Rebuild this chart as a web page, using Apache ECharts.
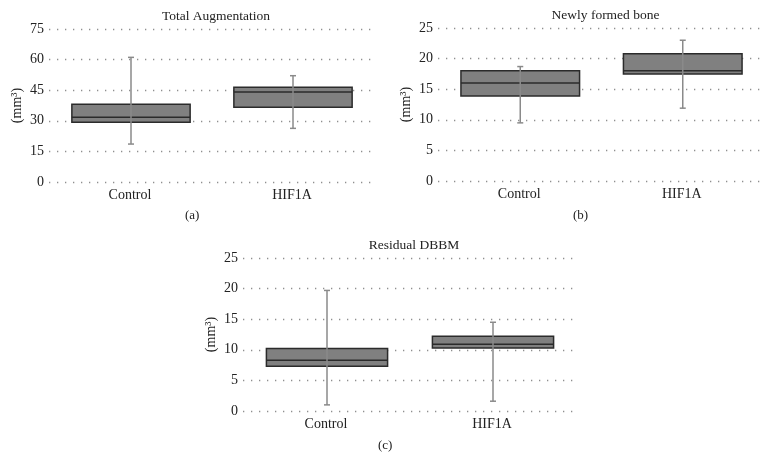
<!DOCTYPE html>
<html>
<head>
<meta charset="utf-8">
<script src="https://cdn.jsdelivr.net/npm/echarts@6/dist/echarts.min.js"></script>
<style>
html,body{margin:0;padding:0;background:#fff;}
#chart{width:776px;height:472px;}
</style>
</head>
<body>
<div id="chart"></div>
<script>
// ---- Data ----
const categories = ['Control', 'HIF1A'];
const titles = ['Total Augmentation', 'Newly formed bone', 'Residual DBBM'];
const panelLabels = ['(a)', '(b)', '(c)'];
// [whiskerLow, q1, median, q3, whiskerHigh]
const totalAugmentation = [
  [18.6, 29.3, 31.7, 38.1, 61.1],
  [26.3, 36.6, 44.1, 46.4, 52.1]
];
const newlyFormedBone = [
  [9.5, 13.9, 16.0, 18.0, 18.7],
  [11.9, 17.5, 18.0, 20.8, 23.0]
];
const residualDBBM = [
  [1.0, 7.3, 8.3, 10.2, 19.7],
  [1.6, 10.3, 10.9, 12.2, 14.5]
];
const yMax = [75, 25, 25];
const yInterval = [15, 5, 5];

// ---- Layout ----
const grids = [
  {left: 49, top: 29, width: 324, height: 153},
  {left: 438, top: 28, width: 325, height: 153},
  {left: 243, top: 258, width: 332, height: 153}
];
const datasets = [totalAugmentation, newlyFormedBone, residualDBBM];
const FONT = '"Liberation Serif", "DejaVu Serif", serif';

function renderBox(params, api) {
  const x = api.value(0);
  const lo = api.value(1), q1 = api.value(2), med = api.value(3), q3 = api.value(4), hi = api.value(5);
  const pLo = api.coord([x, lo]);
  const pQ1 = api.coord([x, q1]);
  const pMed = api.coord([x, med]);
  const pQ3 = api.coord([x, q3]);
  const pHi = api.coord([x, hi]);
  const bw = api.size([1, 0])[0] * 0.73;
  const cx = pMed[0] + 1;
  const cap = 3;
  return {
    type: 'group',
    children: [
      {type: 'rect', shape: {x: cx - bw / 2, y: pQ3[1], width: bw, height: pQ1[1] - pQ3[1]},
        style: {fill: '#808080', stroke: '#2b2b2b', lineWidth: 1.5}},
      {type: 'line', shape: {x1: cx - bw / 2, y1: pMed[1], x2: cx + bw / 2, y2: pMed[1]},
        style: {stroke: '#2b2b2b', lineWidth: 1.5}},
      {type: 'line', shape: {x1: cx, y1: pLo[1], x2: cx, y2: pHi[1]},
        style: {stroke: '#8a8a8a', lineWidth: 1.5}},
      {type: 'line', shape: {x1: cx - cap, y1: pLo[1], x2: cx + cap, y2: pLo[1]},
        style: {stroke: '#8a8a8a', lineWidth: 1.5}},
      {type: 'line', shape: {x1: cx - cap, y1: pHi[1], x2: cx + cap, y2: pHi[1]},
        style: {stroke: '#8a8a8a', lineWidth: 1.5}}
    ]
  };
}

const option = {
  backgroundColor: '#fff',
  animation: false,
  textStyle: {fontFamily: FONT},
  title: [],
  grid: grids,
  xAxis: [],
  yAxis: [],
  series: [],
  graphic: []
};

grids.forEach((g, i) => {
  option.title.push({
    text: titles[i],
    left: g.left + g.width / 2,
    top: g.top - 25,
    textAlign: 'center',
    textStyle: {fontFamily: FONT, fontSize: 13.5, fontWeight: 'normal', color: '#222'}
  });
  option.xAxis.push({
    type: 'category',
    gridIndex: i,
    data: categories,
    axisLine: {show: false},
    axisTick: {show: false},
    axisLabel: {fontFamily: FONT, fontSize: 14, color: '#222', margin: 6}
  });
  option.yAxis.push({
    type: 'value',
    gridIndex: i,
    min: 0,
    max: yMax[i],
    interval: yInterval[i],
    name: '(mm³)',
    nameLocation: 'middle',
    nameGap: 25,
    nameRotate: 90,
    nameTextStyle: {fontFamily: FONT, fontSize: 14, color: '#222'},
    axisLine: {show: false},
    axisTick: {show: false},
    axisLabel: {fontFamily: FONT, fontSize: 14, color: '#222', margin: 5},
    splitLine: {show: true, lineStyle: {color: '#8f8f8f', width: 1.3, type: [1.3, 6.7]}}
  });
  option.series.push({
    type: 'custom',
    xAxisIndex: i,
    yAxisIndex: i,
    renderItem: renderBox,
    encode: {x: 0, y: [1, 2, 3, 4, 5]},
    data: datasets[i].map((d, k) => [k].concat(d))
  });
});

option.graphic = [
  {type: 'text', left: 185, top: 209, style: {text: panelLabels[0], font: '13px ' + FONT, fill: '#222'}},
  {type: 'text', left: 573, top: 209, style: {text: panelLabels[1], font: '13px ' + FONT, fill: '#222'}},
  {type: 'text', left: 378, top: 439, style: {text: panelLabels[2], font: '13px ' + FONT, fill: '#222'}}
];

const chart = echarts.init(document.getElementById('chart'), null, {renderer: 'canvas'});
chart.setOption(option);
</script>
</body>
</html>
